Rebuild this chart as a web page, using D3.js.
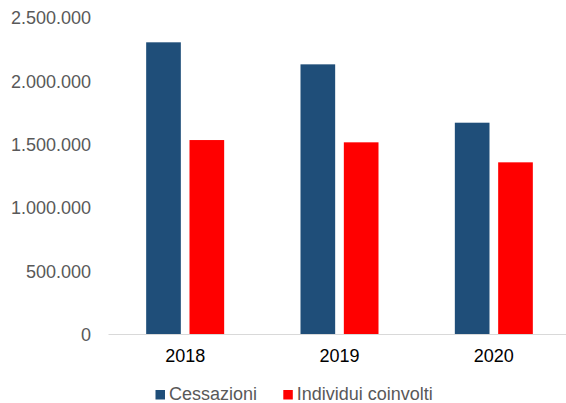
<!DOCTYPE html>
<html><head><meta charset="utf-8">
<script src="https://cdn.jsdelivr.net/npm/d3@7"></script>
<style>html,body{margin:0;padding:0;background:#fff;}svg{display:block;}</style>
</head><body>
<svg id="c" width="566" height="403"></svg>
<script>
const categories = ["2018", "2019", "2020"];
const seriesNames = ["Cessazioni", "Individui coinvolti"];
const cessazioni = [2304000, 2130000, 1669000];
const individui = [1532000, 1514000, 1356000];
const yTicks = [0, 500000, 1000000, 1500000, 2000000, 2500000];
const colors = ["#1F4E79", "#FF0000"];

const svg = d3.select("#c");
const font = "'Liberation Sans', Arial, sans-serif";
const y = d3.scaleLinear().domain([0, 2500000]).range([334, 17.5]);
const x0 = d3.scaleBand().domain(categories).range([108, 571]).padding(0);
const x1 = d3.scaleBand().domain(seriesNames)
  .range([(x0.bandwidth() - 78) / 2, (x0.bandwidth() + 78) / 2]).paddingInner(0.2);

const fmt = v => d3.format(",")(v).replace(/,/g, ".");

// y axis labels
const yAxis = d3.axisLeft(y).tickValues(yTicks).tickFormat(fmt).tickSize(0).tickPadding(0);
const gy = svg.append("g").attr("transform", "translate(91,0)").call(yAxis);
gy.select(".domain").remove();
gy.selectAll("text").attr("font-family", font).attr("font-size", 18).attr("fill", "#595959").attr("dy", "0.36em");

const rows = categories.map((c, i) => ({ cat: c, vals: [cessazioni[i], individui[i]] }));
const g = svg.append("g");
rows.forEach(r => {
  const gg = g.append("g").attr("transform", `translate(${x0(r.cat)},0)`);
  gg.selectAll("rect").data(r.vals).join("rect")
    .attr("x", (d, j) => x1(seriesNames[j]))
    .attr("y", d => y(d))
    .attr("width", x1.bandwidth())
    .attr("height", d => y(0) - y(d))
    .attr("fill", (d, j) => colors[j]);
});

// x axis
const xAxis = d3.axisBottom(x0).tickSize(0).tickPadding(0);
const gx = svg.append("g").attr("transform", `translate(0,${y(0)})`).call(xAxis);
gx.select(".domain").attr("stroke", "#D9D9D9").attr("stroke-width", 1.2);
gx.selectAll("text").attr("font-family", font).attr("font-size", 18).attr("fill", "#000")
  .attr("y", 0).attr("dy", "1.58em");

// legend
const legend = svg.append("g");
const lx = [155.5, 283.3];
seriesNames.forEach((s, j) => {
  legend.append("rect").attr("x", lx[j]).attr("y", 390).attr("width", 9.5).attr("height", 9.5).attr("fill", colors[j]);
  legend.append("text").attr("x", lx[j] + 13.5).attr("y", 400.3)
    .attr("font-family", font).attr("font-size", 18).attr("fill", "#595959").text(s);
});
</script>
</body></html>
